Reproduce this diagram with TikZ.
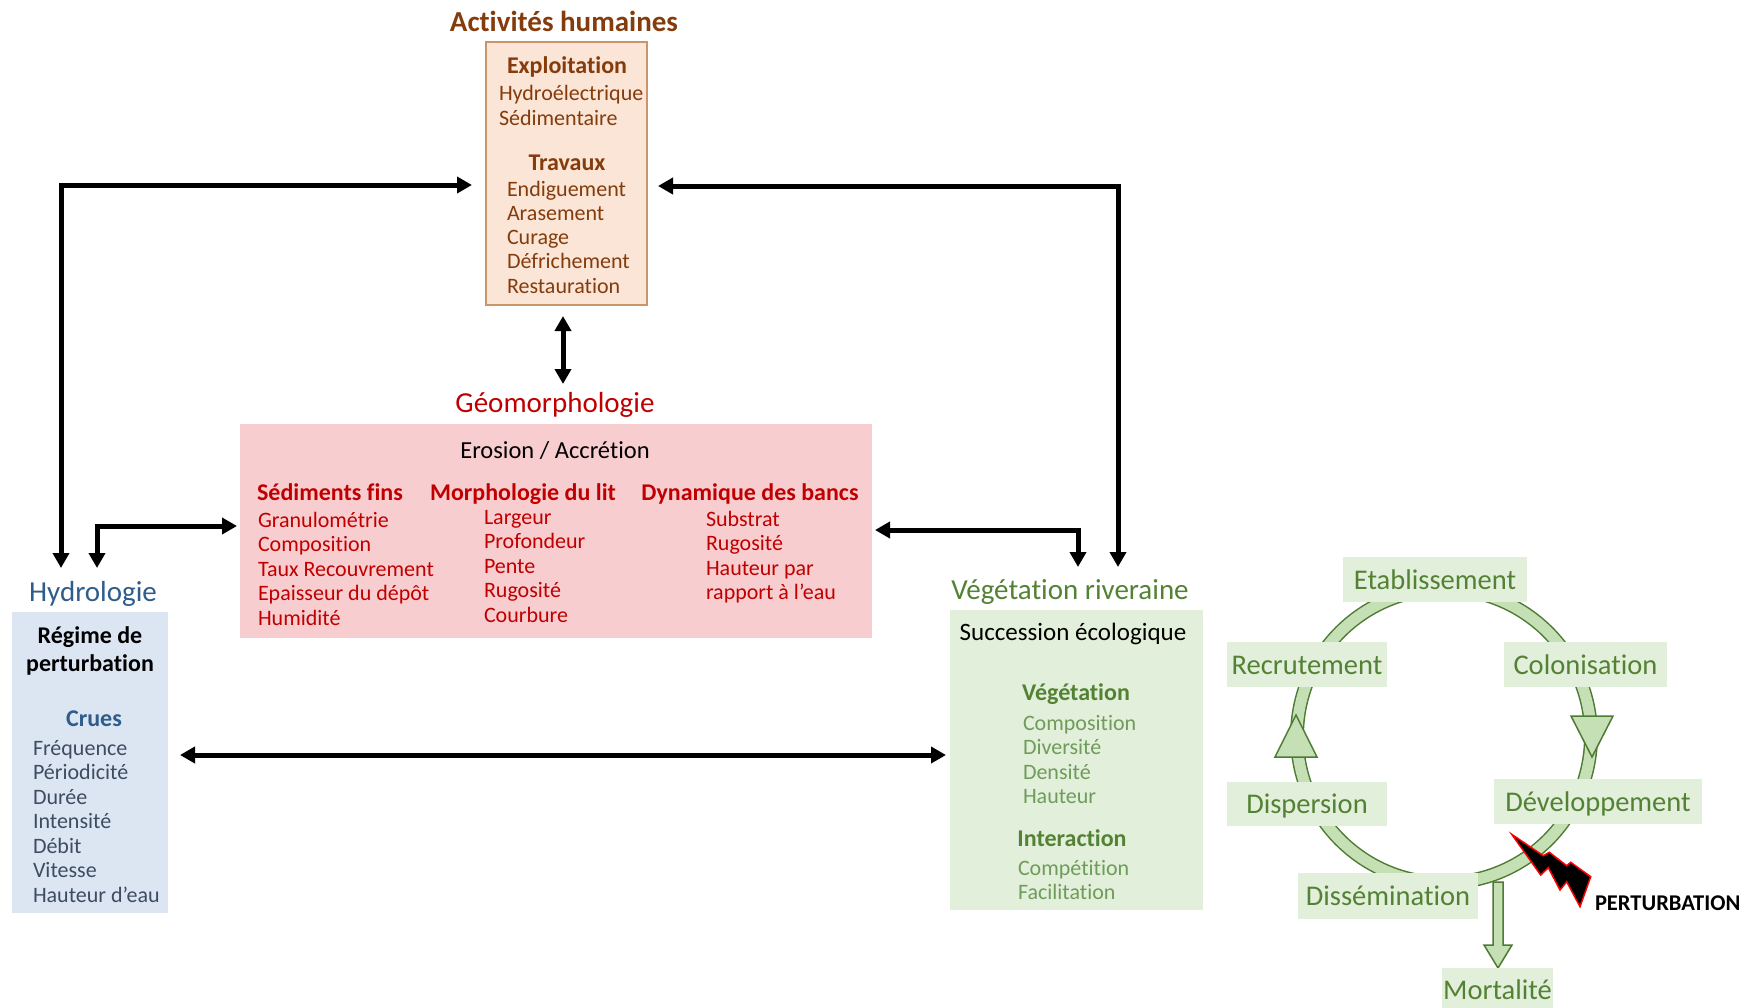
\documentclass[tikz,border=0pt]{standalone}
\usepackage{fontspec}
\setmainfont{Carlito}[RawFeature={-liga;-clig;-dlig;-calt}]
\usetikzlibrary{arrows.meta}
\newcommand{\fsz}[1]{\fontsize{#1pt}{#1pt}\selectfont}
\definecolor{brownT}{HTML}{843C0C}
\definecolor{peach}{HTML}{FBE5D6}
\definecolor{peachD}{HTML}{C9956A}
\definecolor{redT}{HTML}{C00000}
\definecolor{pinkF}{HTML}{F8CDD0}
\definecolor{blueF}{HTML}{DCE6F3}
\definecolor{blueT}{HTML}{2F5C8A}
\definecolor{blueI}{HTML}{3D4C60}
\definecolor{greenF}{HTML}{E2EFDA}
\definecolor{greenT}{HTML}{548235}
\definecolor{greenI}{HTML}{6F9C5A}
\definecolor{ringF}{HTML}{C5E0B4}
\definecolor{ringD}{HTML}{4E7A34}
\tikzset{
  every node/.style={inner sep=0pt, outer sep=0pt},
  panel/.style={rectangle, anchor=north west},
  ttl/.style={anchor=base, font=\fsz{29}},
  item/.style={anchor=base west, font=\fsz{22}},
  subh/.style={anchor=base, font=\fsz{24}\bfseries},
  cyc/.style={rectangle, fill=greenF, text=greenT, font=\fsz{28.5}, text height=21pt, text depth=2pt, anchor=center},
  darr/.style={line width=5pt, line join=miter, {Triangle[length=15pt,width=16pt]}-{Triangle[length=15pt,width=16pt]}},
  ringtri/.style={fill=ringF, draw=ringD, line width=1.5pt, line join=miter}
}
\begin{document}
\begin{tikzpicture}[x=1pt,y=-1pt]
\useasboundingbox (0,0) rectangle (1759,1007);
\fill[white] (0,0) rectangle (1759,1007);

% ---------- Activités humaines ----------
\node[panel, fill=peach, draw=peachD, line width=1.5pt, minimum width=161pt, minimum height=263pt] (actbox) at (486,42) {};
\node[ttl, text=brownT, font=\fsz{29}\bfseries] (acttitle) at (564,31) {Activités humaines};
\node[subh, text=brownT] (expl) at (567,73) {Exploitation};
\node[item, text=brownT] (hyde) at (499,100) {Hydroélectrique};
\node[item, text=brownT] (sedi) at (499,125) {Sédimentaire};
\node[subh, text=brownT] (trav) at (567,170) {Travaux};
\foreach \t [count=\i] in {Endiguement,Arasement,Curage,Défrichement,Restauration}
  \node[item, text=brownT] (trv\i) at (507,{196+(\i-1)*24.3}) {\t};

% ---------- Géomorphologie ----------
\node[panel, fill=pinkF, minimum width=632pt, minimum height=214pt] (geobox) at (240,424) {};
\node[ttl, text=redT] (geotitle) at (555,412) {Géomorphologie};
\node[anchor=base, font=\fsz{24.5}] (eros) at (555,458) {Erosion / Accrétion};
\node[subh, text=redT] (sedf) at (330,500) {Sédiments fins};
\node[subh, text=redT] (morl) at (523,500) {Morphologie du lit};
\node[subh, text=redT] (dynb) at (750,500) {Dynamique des bancs};
\foreach \t [count=\i] in {Granulométrie,Composition,Taux Recouvrement,Epaisseur du dépôt,Humidité}
  \node[item, text=redT] (sf\i) at (258,{527+(\i-1)*24.5}) {\t};
\foreach \t [count=\i] in {Largeur,Profondeur,Pente,Rugosité,Courbure}
  \node[item, text=redT] (ml\i) at (484,{524+(\i-1)*24.5}) {\t};
\foreach \t [count=\i] in {Substrat,Rugosité,Hauteur par,rapport à l’eau}
  \node[item, text=redT] (db\i) at (706,{526+(\i-1)*24.5}) {\t};

% ---------- Hydrologie ----------
\node[panel, fill=blueF, minimum width=156pt, minimum height=301pt] (hydbox) at (12,612) {};
\node[ttl, text=blueT] (hydtitle) at (93,601) {Hydrologie};
\node[anchor=base, font=\fsz{24}\bfseries] (reg1) at (90,643) {Régime de};
\node[anchor=base, font=\fsz{24}\bfseries] (reg2) at (90,671) {perturbation};
\node[subh, text=blueT] (crues) at (94,726) {Crues};
\foreach \t [count=\i] in {Fréquence,Périodicité,Durée,Intensité,Débit,Vitesse,Hauteur d’eau}
  \node[item, text=blueI] (cr\i) at (33,{755+(\i-1)*24.5}) {\t};

% ---------- Végétation riveraine ----------
\node[panel, fill=greenF, minimum width=253pt, minimum height=300pt] (vegbox) at (950,610) {};
\node[ttl, text=greenT] (vegtitle) at (1070,599) {Végétation riveraine};
\node[anchor=base, font=\fsz{25}] (succ) at (1073,640) {Succession écologique};
\node[subh, text=greenT] (vegh) at (1076,700) {Végétation};
\foreach \t [count=\i] in {Composition,Diversité,Densité,Hauteur}
  \node[item, text=greenI] (vg\i) at (1023,{730+(\i-1)*24.6}) {\t};
\node[subh, text=greenT] (inter) at (1072,846) {Interaction};
\foreach \t [count=\i] in {Compétition,Facilitation}
  \node[item, text=greenI] (it\i) at (1018,{875+(\i-1)*24.6}) {\t};

% ---------- connectors ----------
\coordinate (hydL) at (61,568);
\coordinate (hydR) at (97,568);
\coordinate (actL) at (472,185);
\coordinate (actR) at (658,186);
\coordinate (geoL) at (237,526);
\coordinate (geoR) at (875,530);
\coordinate (vegL) at (1078,567);
\coordinate (vegR) at (1118,567);
\coordinate (actB) at (563,316);
\coordinate (geoT) at (563,384);
\coordinate (hydE) at (180,755);
\coordinate (vegW) at (946,755);
\draw[darr] (hydL) |- (actL);
\draw[darr] (hydR) |- (geoL);
\draw[darr] (vegL) |- (geoR);
\draw[darr] (vegR) |- (actR);
\draw[darr] (actB) -- (geoT);
\draw[darr] (hydE) -- (vegW);

% ---------- cycle ----------
\coordinate (cc) at (1444,736);
\draw[ringD, line width=14pt] (cc) circle[radius=147];
\draw[ringF, line width=11pt] (cc) circle[radius=147];
\draw[ringtri] (1296,715) -- (1317,757) -- (1275,757) -- cycle;
\draw[ringtri] (1571,716) -- (1613,716) -- (1592,757) -- cycle;
\draw[ringtri] (1493,882) -- (1503,882) -- (1503,945) -- (1512,945) -- (1498,968) -- (1484,945) -- (1493,945) -- cycle;

\node[cyc, minimum width=184pt, minimum height=45pt] (etab) at (1435,579.5) {Etablissement};
\node[cyc, minimum width=160pt, minimum height=45pt] (recr) at (1307,664.5) {Recrutement};
\node[cyc, minimum width=163pt, minimum height=45pt] (colo) at (1585.5,664.5) {Colonisation};
\node[cyc, minimum width=160pt, minimum height=44pt] (disp) at (1307,804) {Dispersion};
\node[cyc, minimum width=208pt, minimum height=45pt] (deve) at (1598,801.5) {Développement};
\node[cyc, minimum width=180pt, minimum height=46pt] (diss) at (1388,896) {Dissémination};
\node[cyc, minimum width=111pt, minimum height=44pt] (mort) at (1497.5,990) {Mortalité};

% lightning
\draw[draw=red, fill=black, line width=1.5pt, line join=miter]
  (1511.7,834.3) -- (1543.3,855.7) -- (1549.3,852.3) -- (1566.7,865.7) -- (1570.7,862.3)
  -- (1590.7,876.7) -- (1580,906.7) -- (1566.7,881.7) -- (1560,890)
  -- (1548.3,867.7) -- (1540.7,875) -- cycle;
\node[anchor=base west, font=\fsz{22.5}\bfseries] (pert) at (1595,910) {PERTURBATION};
\end{tikzpicture}
\end{document}
